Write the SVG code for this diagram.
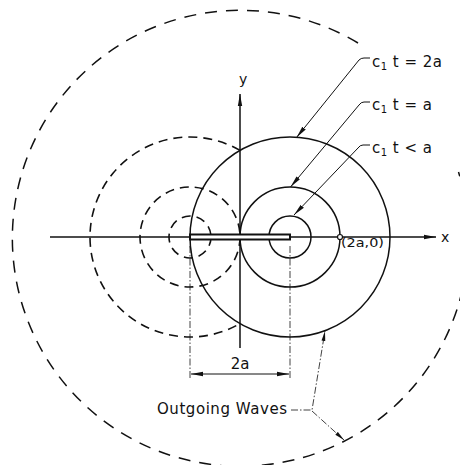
<svg xmlns="http://www.w3.org/2000/svg" width="460" height="465" viewBox="0 0 460 465">
<style>
.solid{fill:none;stroke:#111;stroke-width:1.5}
.dash{fill:none;stroke:#111;stroke-width:1.6;stroke-dasharray:9 6}
.outer{fill:none;stroke:#111;stroke-width:1.5;stroke-dasharray:12 9}
.axis{fill:none;stroke:#111;stroke-width:1.5}
.lead{fill:none;stroke:#111;stroke-width:1}
.chain{fill:none;stroke:#111;stroke-width:0.8;stroke-dasharray:7 2 1.5 2}
text{font-family:"DejaVu Sans","Liberation Sans",sans-serif;fill:#111}
.lbl{font-size:15px}
.sub{font-size:10px}
</style>
<defs>
<marker id="ah" viewBox="0 0 12 6" refX="12" refY="3" markerWidth="12" markerHeight="6" markerUnits="userSpaceOnUse" orient="auto-start-reverse">
<path d="M0,0.8 L12,3 L0,5.2 Z" fill="#111"/>
</marker>
<marker id="ahs" viewBox="0 0 10 5" refX="10" refY="2.5" markerWidth="10" markerHeight="5" markerUnits="userSpaceOnUse" orient="auto-start-reverse">
<path d="M0,0.6 L10,2.5 L0,4.4 Z" fill="#111"/>
</marker>
</defs>

<g id="outer-wave">
<path class="outer" d="M358,43 A228,228 0 1,0 458.5,172"/>
</g>

<g id="image-waves">
<path class="dash" d="M240,150.4 A100,100 0 1,0 240,323.6"/>
<circle class="dash" cx="190" cy="237" r="50"/>
<circle class="dash" cx="190" cy="237" r="21"/>
</g>

<g id="source-waves">
<circle class="solid" cx="290" cy="237" r="100"/>
<circle class="solid" cx="290" cy="237" r="50"/>
<circle class="solid" cx="290" cy="237" r="21"/>
</g>

<g id="axes">
<line class="axis" x1="50" y1="237" x2="436" y2="237" marker-end="url(#ah)"/>
<line class="axis" x1="240" y1="348" x2="240" y2="94" marker-end="url(#ah)"/>
<text x="441" y="242" style="font-size:14px">x</text>
<text x="239" y="84" style="font-size:14px">y</text>
</g>

<g id="crack">
<rect x="190" y="234.5" width="100" height="5" fill="#fff" stroke="#111" stroke-width="2"/>
</g>

<g id="point-2a0">
<circle cx="340" cy="237" r="2.5" fill="#fff" stroke="#111" stroke-width="1.2"/>
<text x="341" y="247" style="font-size:13px" textLength="43" lengthAdjust="spacingAndGlyphs">(2a,0)</text>
</g>

<g id="dimension">
<line class="chain" x1="190" y1="246" x2="190" y2="378"/>
<line class="chain" x1="290" y1="246" x2="290" y2="378"/>
<line class="lead" x1="191" y1="374" x2="289" y2="374" marker-start="url(#ah)" marker-end="url(#ah)"/>
<text x="240" y="369" class="lbl" text-anchor="middle">2a</text>
</g>

<g id="label-2a">
<text x="372" y="67" class="lbl" textLength="70" lengthAdjust="spacing">c<tspan class="sub" dy="3">1</tspan><tspan dy="-3"> t = 2a</tspan></text>
</g>
<g id="label-a">
<text x="372" y="110" class="lbl" textLength="60" lengthAdjust="spacing">c<tspan class="sub" dy="3">1</tspan><tspan dy="-3"> t = a</tspan></text>
</g>
<g id="label-lt">
<text x="372" y="153" class="lbl" textLength="60" lengthAdjust="spacing">c<tspan class="sub" dy="3">1</tspan><tspan dy="-3"> t &lt; a</tspan></text>
</g>
<g id="label-outgoing">
<text x="157" y="414" class="lbl" textLength="130" lengthAdjust="spacing">Outgoing Waves</text>
</g>

<g id="connectors">
<path class="lead" d="M370,58 L364,58 Q361,58 359,60 L296.5,137.5" marker-end="url(#ah)"/>
<path class="lead" d="M370,102 L364,102 Q361,102 359,105 L290.5,187" marker-end="url(#ah)"/>
<path class="lead" d="M370,145 L363,145 Q360,145 358,148 L294,215" marker-end="url(#ah)"/>
<path class="chain" d="M291,410 L312,410 L325,331" marker-end="url(#ahs)"/>
<path class="chain" d="M312,411 L344,440" marker-end="url(#ahs)"/>
</g>
</svg>
